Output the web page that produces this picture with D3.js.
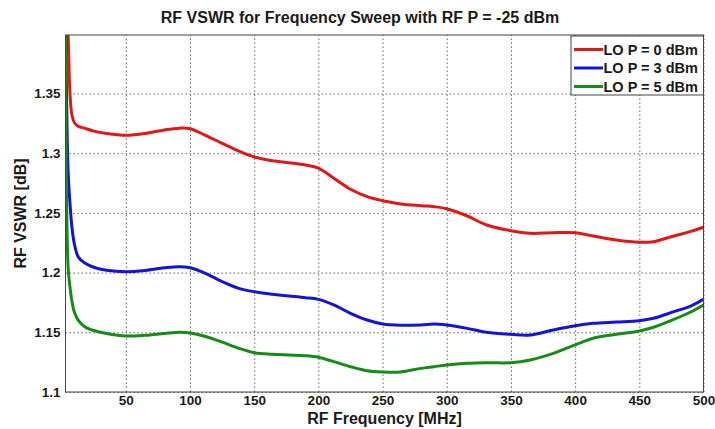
<!DOCTYPE html>
<html><head><meta charset="utf-8">
<script src="https://cdn.jsdelivr.net/npm/d3@7"></script>
<style>
html,body{margin:0;padding:0;background:#fff;}
text{font-family:"Liberation Sans",Arial,sans-serif;font-weight:bold;fill:#1a1a1a;}
</style></head>
<body><svg id="chart" width="715" height="429"></svg>
<script>
const title = "RF VSWR for Frequency Sweep with RF P = -25 dBm";
const xLabel = "RF Frequency [MHz]";
const yLabel = "RF VSWR [dB]";
const xTicks = [50,100,150,200,250,300,350,400,450,500];
const yTicks = [1.1,1.15,1.2,1.25,1.3,1.35];
const seriesNames = ["LO P = 0 dBm","LO P = 3 dBm","LO P = 5 dBm"];
const seriesColors = ["#e01818","#1414d8","#178a17"];
const freq = [3,5,6.5,8,10,13,18,25,35,50,65,80,92,100,112,125,138,150,164,177,190,200,212,225,238,250,264,280,290,300,316,331,350,365,383,400,414,432,450,461,477,490,500];
const vswrLO0 = [1.45,1.40,1.35,1.332,1.3255,1.3225,1.3209,1.3185,1.3165,1.315,1.3165,1.3195,1.321,1.3205,1.315,1.3083,1.3018,1.2968,1.2937,1.292,1.2901,1.2875,1.279,1.2698,1.2636,1.2602,1.2575,1.256,1.2552,1.2535,1.2474,1.2399,1.2351,1.2329,1.2334,1.2334,1.2307,1.2273,1.2254,1.2259,1.2307,1.2345,1.238];
const vswrLO3 = [1.42,1.2859,1.258,1.238,1.2235,1.213,1.208,1.2045,1.202,1.2008,1.2018,1.204,1.205,1.204,1.1994,1.1924,1.1868,1.184,1.1818,1.1804,1.179,1.1776,1.1729,1.1659,1.1603,1.157,1.1559,1.1562,1.157,1.1561,1.1533,1.15,1.1483,1.1477,1.152,1.1555,1.1575,1.1586,1.1597,1.1617,1.1673,1.172,1.1776];
const vswrLO5 = [1.42,1.205,1.188,1.176,1.1665,1.16,1.1547,1.1515,1.149,1.1469,1.1475,1.149,1.15,1.1495,1.1465,1.1418,1.1366,1.1329,1.1316,1.131,1.1304,1.1291,1.1254,1.1212,1.1178,1.1168,1.1168,1.1198,1.1212,1.1226,1.124,1.1245,1.1245,1.1268,1.1324,1.1394,1.145,1.1483,1.1511,1.1542,1.1609,1.167,1.1729];
const seriesValues = [vswrLO0, vswrLO3, vswrLO5];

const svg = d3.select("#chart");
const m = {left:65.5, top:35, right:703.5, bottom:392};
const W = m.right - m.left, H = m.bottom - m.top;
const x = d3.scaleLinear().domain([3,500]).range([m.left, m.right]);
const y = d3.scaleLinear().domain([1.1,1.399]).range([m.bottom, m.top]);

svg.append("defs").append("clipPath").attr("id","clip")
  .append("rect").attr("x",m.left).attr("y",m.top).attr("width",W).attr("height",H);

// grid
const gx = svg.append("g").attr("transform",`translate(0,${m.bottom})`)
  .call(d3.axisBottom(x).tickValues(xTicks).tickSize(-H).tickFormat(""));
gx.select(".domain").remove();
gx.selectAll("line").attr("stroke","#555").attr("stroke-width",0.9).attr("stroke-dasharray","1.5,2.5");
const gy = svg.append("g").attr("transform",`translate(${m.left},0)`)
  .call(d3.axisLeft(y).tickValues(yTicks).tickSize(-W).tickFormat(""));
gy.select(".domain").remove();
gy.selectAll("line").attr("stroke","#555").attr("stroke-width",0.9).attr("stroke-dasharray","1.5,2.5");

// tick labels
const ax = svg.append("g").attr("transform",`translate(0,${m.bottom})`)
  .call(d3.axisBottom(x).tickValues(xTicks).tickSize(0).tickPadding(3).tickFormat(d3.format("d")));
ax.select(".domain").remove();
ax.selectAll("text").attr("font-size","13.5px").attr("font-family","Liberation Sans, Arial, sans-serif").attr("font-weight","bold").attr("fill","#1a1a1a");
const ay = svg.append("g").attr("transform",`translate(${m.left},0)`)
  .call(d3.axisLeft(y).tickValues(yTicks).tickSize(0).tickPadding(5).tickFormat(d => String(+d.toFixed(2))));
ay.select(".domain").remove();
ay.selectAll("text").attr("font-size","13.5px").attr("font-family","Liberation Sans, Arial, sans-serif").attr("font-weight","bold").attr("fill","#1a1a1a");

// lines
const line = d3.line().curve(d3.curveCatmullRom.alpha(0.5)).x((d,i)=>x(freq[i])).y(d=>y(d));
const lg = svg.append("g").attr("clip-path","url(#clip)");
seriesValues.forEach((vals,k)=>{
  lg.append("path").datum(vals).attr("d",line).attr("fill","none")
    .attr("stroke",seriesColors[k]).attr("stroke-width",3).attr("stroke-linejoin","round");
});

// box
svg.append("rect").attr("x",m.left).attr("y",m.top).attr("width",W).attr("height",H)
  .attr("fill","none").attr("stroke","#444").attr("stroke-width",1);

// legend
const lgx = 571, lgy = 36, lgw = 132.5, lgh = 59;
const leg = svg.append("g");
leg.append("rect").attr("x",lgx).attr("y",lgy).attr("width",lgw).attr("height",lgh)
  .attr("fill","#fff").attr("stroke","#444").attr("stroke-width",1);
seriesNames.forEach((n,k)=>{
  const cy = lgy + 13.5 + k*18.5;
  leg.append("line").attr("x1",574).attr("x2",603).attr("y1",cy).attr("y2",cy)
    .attr("stroke",seriesColors[k]).attr("stroke-width",3);
  leg.append("text").attr("x",603.5).attr("y",cy+5).attr("font-size","14.5px").text(n);
});

// titles
svg.append("text").attr("x",360).attr("y",23).attr("text-anchor","middle")
  .attr("font-size","16px").text(title);
svg.append("text").attr("x",(m.left+m.right)/2).attr("y",424).attr("text-anchor","middle")
  .attr("font-size","16px").text(xLabel);
svg.append("text").attr("transform",`translate(26,${(m.top+m.bottom)/2}) rotate(-90)`)
  .attr("text-anchor","middle").attr("font-size","16px").text(yLabel);
</script></body></html>
